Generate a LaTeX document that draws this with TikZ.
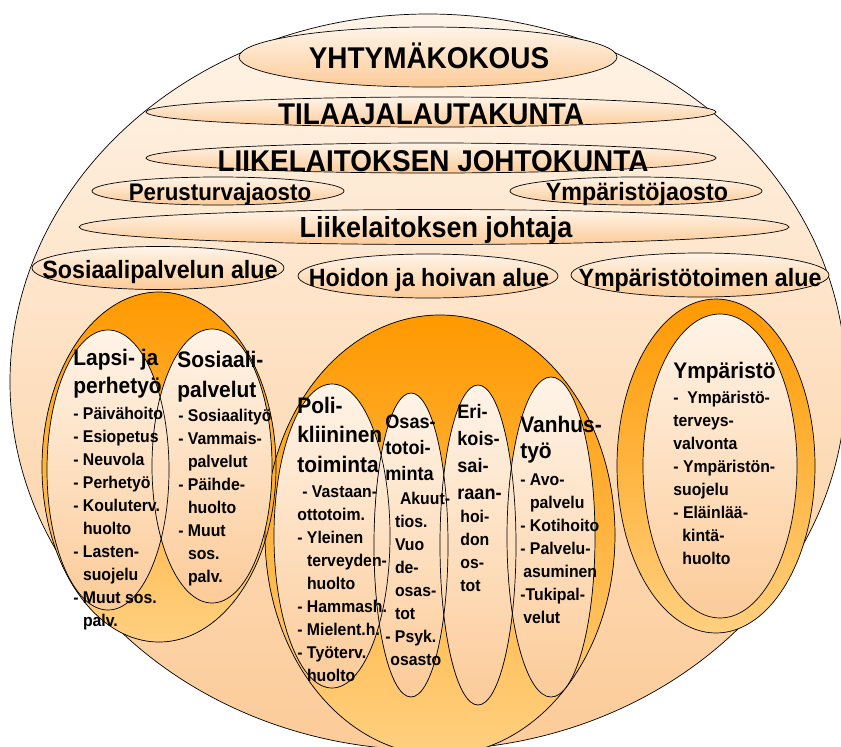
\documentclass[tikz,border=0pt]{standalone}
\usepackage{fontspec}
\setmainfont{Liberation Sans}[FakeStretch=0.93]
\definecolor{peachtop}{HTML}{FFF4E8}
\definecolor{peachbot}{HTML}{FCCB98}
\definecolor{orangetop}{HTML}{FF9900}
\definecolor{orangebot}{HTML}{FFD080}
\newcommand{\hg}{\phantom{- }}
\newcommand{\sz}[2]{\fontsize{#1}{#2}\selectfont\bfseries}

\begin{document}
\begin{tikzpicture}[x=1pt,y=-1pt,line width=.7pt,
  peach/.style={top color=peachtop,bottom color=peachbot},
  glow/.style={top color=orangetop,bottom color=orangebot},
  head/.style={anchor=base,inner sep=0pt,font=\sz{#1}{#1}},
  title/.style n args={2}{anchor=base west,inner sep=0pt,align=left,font=\sz{#1}{#2}},
  item/.style={anchor=base west,inner sep=0pt,align=left,font=\sz{17}{23}}]
\useasboundingbox (0,0) rectangle (841,747);
% outer frame
\draw[peach] (428,382) ellipse [x radius=418,y radius=368];
% governing bodies
\draw[peach] (428,57) ellipse [x radius=189,y radius=30];
\draw[peach] (431,112) ellipse [x radius=285,y radius=15];
\draw[peach] (431,158) ellipse [x radius=285,y radius=15];
\draw[peach] (218,191) ellipse [x radius=126,y radius=14];
\draw[peach] (636,191) ellipse [x radius=126,y radius=14];
\draw[peach] (434,227) ellipse [x radius=355,y radius=17.5];
\draw[peach] (158,268) ellipse [x radius=126,y radius=21.5];
\draw[peach] (428,276) ellipse [x radius=130,y radius=22];
\draw[peach] (700,275) ellipse [x radius=129,y radius=22];
% areas
\fill[glow] (159,467) ellipse [x radius=117,y radius=175];
\fill[glow] (440,535) ellipse [x radius=175,y radius=220];
\draw (159,467) ellipse [x radius=117,y radius=175];
\draw (440,535) ellipse [x radius=175,y radius=220];
\draw[glow] (716,466) ellipse [x radius=99,y radius=167];
% units
\fill[peach] (108,470) ellipse [x radius=61,y radius=140];
\fill[peach] (212,466) ellipse [x radius=60,y radius=137];
\fill[peach] (332,536) ellipse [x radius=58,y radius=152];
\fill[peach] (411,545) ellipse [x radius=37,y radius=152];
\fill[peach] (478,545) ellipse [x radius=38,y radius=160];
\fill[peach] (551,537) ellipse [x radius=44,y radius=160];
\draw (108,470) ellipse [x radius=61,y radius=140];
\draw (212,466) ellipse [x radius=60,y radius=137];
\draw (332,536) ellipse [x radius=58,y radius=152];
\draw (411,545) ellipse [x radius=37,y radius=152];
\draw (478,545) ellipse [x radius=38,y radius=160];
\draw (551,537) ellipse [x radius=44,y radius=160];
\draw[peach] (720,466) ellipse [x radius=77,y radius=152];

\node[head=30] (yk) at (429,68) {YHTYMÄKOKOUS};
\node[head=30] (tl) at (431,124) {TILAAJALAUTAKUNTA};
\node[head=30] (jk) at (433,171) {LIIKELAITOKSEN JOHTOKUNTA};
\node[head=24] (pj) at (220,200) {Perusturvajaosto};
\node[head=25] (yj) at (637,200) {Ympäristöjaosto};
\node[head=29] (lj) at (436,237) {Liikelaitoksen johtaja};
\node[head=25] (sa) at (160,278) {Sosiaalipalvelun alue};
\node[head=25] (ha) at (429,286) {Hoidon ja hoivan alue};
\node[head=25] (ya) at (700,286) {Ympäristötoimen alue};

% anchors sit on the last baseline of each block
\node[title={22.5}{28}] (lpt) at (73,393) {Lapsi- ja\\perhetyö};
\node[item] (lpl) at (73,626) {- Päivähoito\\- Esiopetus\\- Neuvola\\- Perhetyö\\- Kouluterv.\\\hg huolto\\- Lasten-\\\hg suojelu\\- Muut sos.\\\hg palv.};
\node[title={22.5}{30}] (spt) at (177,397) {Sosiaali-\\palvelut};
\node[item] (spl) at (178,582) {- Sosiaalityö\\- Vammais-\\\hg palvelut\\- Päihde-\\\hg huolto\\- Muut\\\hg sos.\\\hg palv.};
\node[title={22.5}{29.5}] (plt) at (297,472) {Poli-\\kliininen\\toiminta};
\node[item] (pll) at (297,681) {\hspace{5pt}- Vastaan-\\ottotoim.\\- Yleinen\\\hg terveyden-\\\hg huolto\\- Hammash.\\- Mielent.h.\\- Työterv.\\\hg huolto};
\node[title={19.5}{26}] (ost) at (385,480) {Osas-\\totoi-\\minta};
\node[item] (osl) at (385,665) {\hg\hspace{5pt}Akuut-\\\hg tios.\\\hg Vuo\\\hg de-\\\hg osas-\\\hg tot\\- Psyk.\\\hspace{5pt}osasto};
\node[title={19.5}{27}] (ert) at (457,499) {Eri-\\kois-\\sai-\\raan-};
\node[item] (erl) at (460,591) {hoi-\\don\\os-\\tot};
\node[title={22.5}{26}] (vat) at (520,458) {Vanhus-\\työ};
\node[item] (val) at (520,623) {- Avo-\\\hg palvelu\\- Kotihoito\\- Palvelu-\\\hspace{3pt}asuminen\\-Tukipal-\\\hspace{3pt}velut};
\node[title={22.5}{26}] (ymt) at (673,378) {Ympäristö};
\node[item] (yml) at (673,564) {-\ \ Ympäristö-\\terveys-\\valvonta\\- Ympäristön-\\suojelu\\- Eläinlää-\\\hspace{9pt}kintä-\\\hspace{9pt}huolto};
\end{tikzpicture}
\end{document}
